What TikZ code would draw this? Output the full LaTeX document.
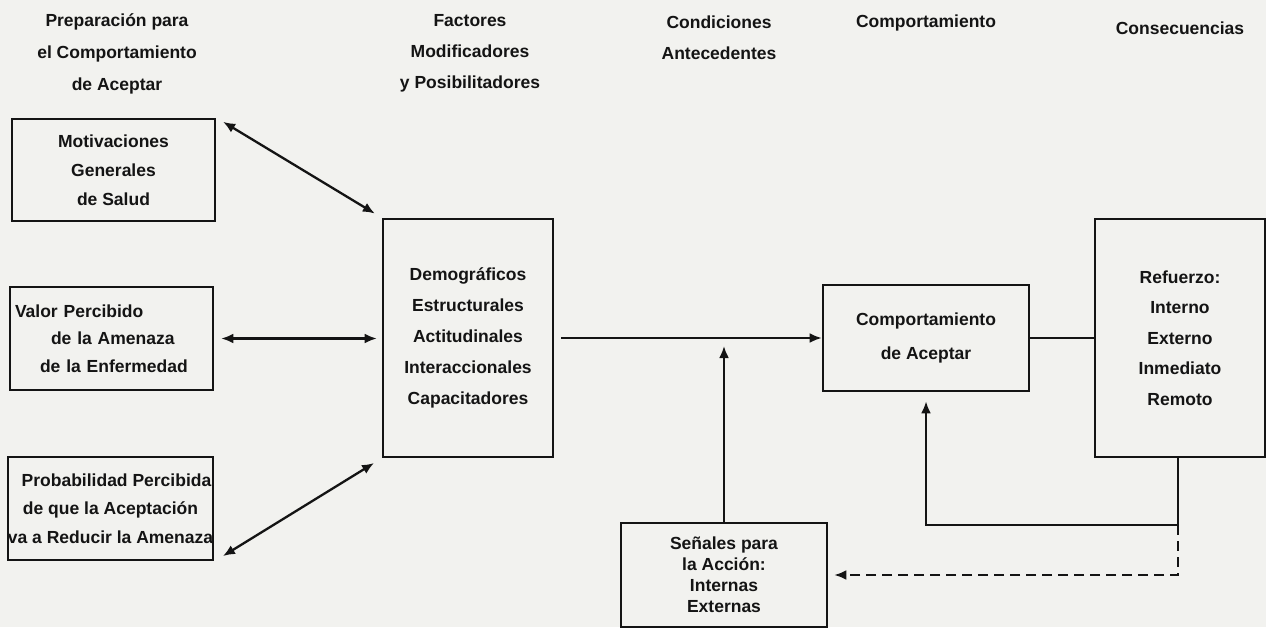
\documentclass[tikz,border=0pt]{standalone}
\usepackage{fontspec}
\setmainfont{Liberation Sans}
\usepackage{tikz}
\usetikzlibrary{arrows.meta}
\definecolor{inkc}{HTML}{141414}
\definecolor{paperc}{HTML}{F2F2EF}
\tikzset{
  >={Latex[length=12pt,width=10pt]},
  ls/.style={font=\fontsize{17.5}{#1}\selectfont\bfseries},
  box/.style={draw=inkc,text=inkc,line width=2.6pt,align=center,inner sep=2pt,ls=29},
  hd/.style={text=inkc,align=center,inner sep=0pt,ls=31},
  ar/.style={->,line width=2.3pt,inkc},
  lk/.style={line width=2.3pt,inkc}
}

\begin{document}
\begin{tikzpicture}[x=1pt,y=-1pt]
\fill[paperc] (0,0) rectangle (1266,627);
\useasboundingbox (0,0) rectangle (1266,627);
% headers
\node[hd,ls=32] (hprep) at (117,54) {Preparación para\\el Comportamiento\\de Aceptar};
\node[hd] (hfact) at (470,53) {Factores\\Modificadores\\y Posibilitadores};
\node[hd] (hcond) at (719,38) {Condiciones\\Antecedentes};
\node[hd] (hcomp) at (926,23) {Comportamiento};
\node[hd] (hcons) at (1180,28) {Consecuencias};
% boxes
\node[box,minimum width=203,minimum height=102] (motiv) at (113.5,170) {Motivaciones\\Generales\\de Salud};
\node[box,minimum width=203,minimum height=103,text width=193,align=left,inner sep=5,ls=27.5] (valor) at (111.5,338.5)
  {Valor Percibido\\\hspace*{36pt}de la Amenaza\\\hspace*{25pt}de la Enfermedad};
\node[box,minimum width=205,minimum height=103,inner sep=0pt,ls=28.5] (prob) at (110.5,508.5)
  {\hspace*{12pt}Probabilidad Percibida\\de que la Aceptación\\va a Reducir la Amenaza};
\node[box,minimum width=170,minimum height=238,ls=31] (fact) at (468,338)
  {Demográficos\\Estructurales\\Actitudinales\\Interaccionales\\Capacitadores};
\node[box,minimum width=206,minimum height=106,ls=34] (comport) at (926,338) {Comportamiento\\de Aceptar};
\node[box,minimum width=170,minimum height=238,ls=30.5] (refz) at (1180,338)
  {Refuerzo:\\Interno\\Externo\\Inmediato\\Remoto};
\node[box,minimum width=206,minimum height=104,ls=21] (senal) at (724,575)
  {Señales para\\la Acción:\\Internas\\Externas};
% connectors
\draw[ar,<->,shorten <=8pt,shorten >=8pt] (motiv.north east) -- (fact.north west);
\draw[ar,<->,shorten <=7pt,shorten >=5pt] (valor.east) -- (valor.east -| fact.west);
\draw[ar,<->,shorten <=10pt,shorten >=9pt] (prob.south east) -- (fact.south west);
\draw[ar,shorten <=7pt] (fact.east) -- (comport.west);
\draw[ar,shorten >=8pt] (senal.north) -- (senal.north |- fact.east);
\draw[lk] (comport.east) -- (refz.west);
\coordinate (fb) at (1178,525);
\draw[ar,shorten >=9pt] (refz.south -| fb) -- (fb) -| (comport.south);
\draw[ar,dash pattern=on 10pt off 6pt,shorten >=6pt] (fb) |- (senal.east);
\end{tikzpicture}
\end{document}
